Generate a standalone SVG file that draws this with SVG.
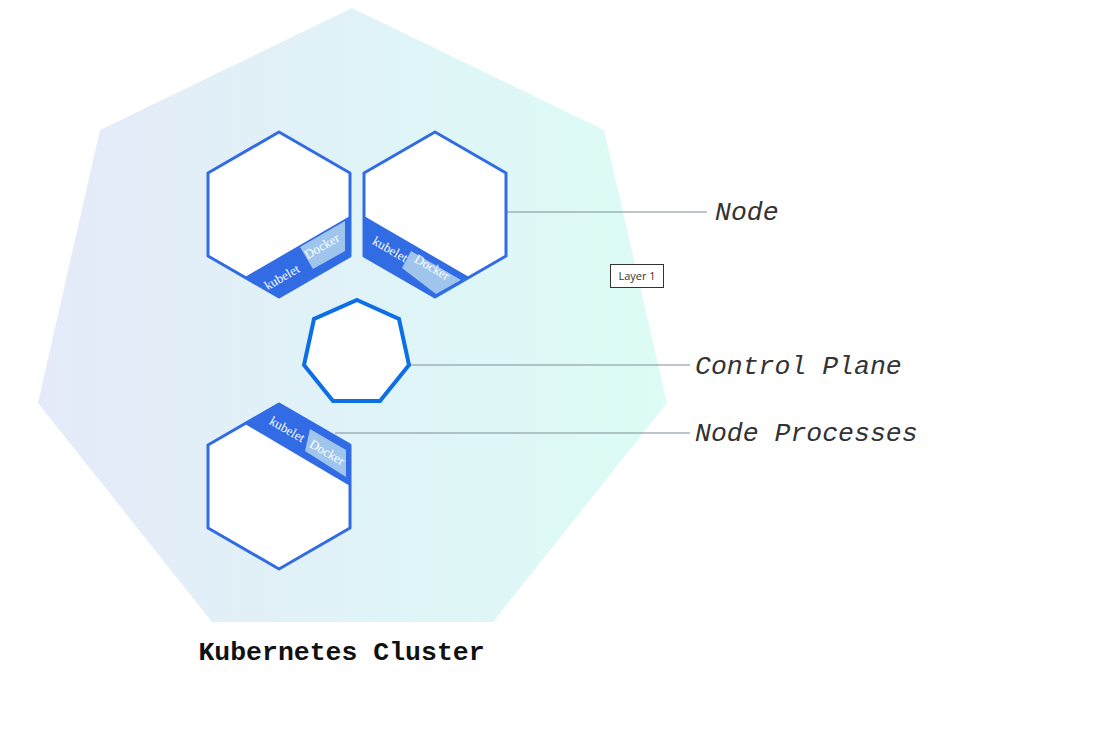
<svg xmlns="http://www.w3.org/2000/svg" width="1119" height="743" viewBox="0 0 1119 743">
<defs>
<linearGradient id="bg" x1="38" y1="0" x2="667" y2="0" gradientUnits="userSpaceOnUse">
<stop offset="0" stop-color="#e4eaf9"/>
<stop offset="1" stop-color="#dcfcf5"/>
</linearGradient>
<style>
.hex{fill:#fff}
.hexs{fill:none;stroke:#326ce5;stroke-width:3;stroke-linejoin:round}
.band{fill:#326ce5}
.dock{fill:#a0c5ed}
.kt{font-family:"Liberation Serif","DejaVu Serif",serif;font-size:13px;fill:#fff;text-anchor:middle}
.lbl{font-family:"Liberation Mono","Courier New",monospace;font-style:italic;font-size:26.5px;fill:#333}
.conn{stroke:#808d98;stroke-width:1.2;fill:none}
</style>
</defs>
<rect width="1119" height="743" fill="#fff"/>
<g id="cluster">
<polygon points="352,8 604,130 667,403 493,622 212,622 38,403 100,130" fill="url(#bg)"/>
<text x="341.5" y="660" text-anchor="middle" font-family="Liberation Mono,'Courier New',monospace" font-weight="bold" font-size="26.5" fill="#111">Kubernetes Cluster</text>
</g>
<g id="connectors">
<line class="conn" x1="507" y1="212" x2="707" y2="212"/>
<line class="conn" x1="409" y1="365" x2="690" y2="365"/>
<line class="conn" x1="335" y1="433" x2="690" y2="433"/>
</g>
<g id="node1">
<polygon class="hex" points="279,132 350,173 350,256 279,297 208,256 208,173"/>
<polygon class="band" points="245,277 350,216 350,256 279,297"/>
<polygon class="dock" points="300,247 345,221 345,251 313,269"/>
<text class="kt" transform="translate(284,281) rotate(-30)">kubelet</text>
<text class="kt" transform="translate(324,250) rotate(-30)">Docker</text>
<polygon class="hexs" points="279,132 350,173 350,256 279,297 208,256 208,173"/>
</g>
<g id="node2">
<polygon class="hex" points="435,132 506,173 506,256 435,297 364,256 364,173"/>
<polygon class="band" points="469,277 364,216 364,256 435,297"/>
<polygon class="dock" points="411,251 461,280 436,294 402,268"/>
<text class="kt" transform="translate(388,253) rotate(30)">kubelet</text>
<text class="kt" transform="translate(430,271) rotate(30)">Docker</text>
<polygon class="hexs" points="435,132 506,173 506,256 435,297 364,256 364,173"/>
</g>
<g id="node3">
<polygon class="hex" points="279,404 350,445 350,528 279,569 208,528 208,445"/>
<polygon class="band" points="279,404 350,445 350,486 245,424"/>
<polygon class="dock" points="310,429 346,450 346,477 305,451"/>
<text class="kt" transform="translate(285,433) rotate(30)">kubelet</text>
<text class="kt" transform="translate(325,456) rotate(30)">Docker</text>
<polygon class="hexs" points="279,404 350,445 350,528 279,569 208,528 208,445"/>
</g>
<g id="control-plane">
<polygon points="357,300 399,319 409,365 380,401 333,401 304,365 314,319" fill="#fff" stroke="#0d6fe6" stroke-width="4" stroke-linejoin="miter"/>
</g>
<g id="labels">
<text class="lbl" x="715" y="220">Node</text>
<text class="lbl" x="695" y="374">Control Plane</text>
<text class="lbl" x="695" y="441">Node Processes</text>
</g>
<g id="layer">
<rect x="610.5" y="264.5" width="53" height="23" fill="#fff" stroke="#333" stroke-width="1"/>
<text x="637" y="280" text-anchor="middle" font-family="'Open Sans','Liberation Sans',sans-serif" font-size="11" fill="#333">Layer 1</text>
</g>
</svg>
